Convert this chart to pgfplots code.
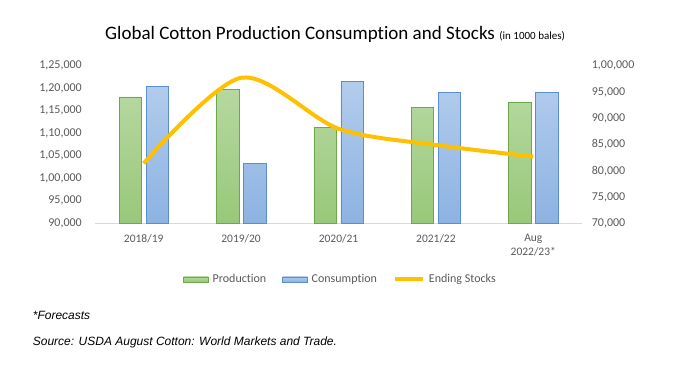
\documentclass[border=0pt]{standalone}
\usepackage{pgfplots}
\pgfplotsset{compat=1.18}
\usepackage{fontspec}
\setmainfont{Carlito}[Ligatures={NoCommon}]
\newfontfamily\arialfont{Liberation Sans}
\definecolor{tickgray}{HTML}{595959}
\definecolor{axgray}{HTML}{D9D9D9}
\definecolor{gtop}{HTML}{B6D8A0}
\definecolor{gbot}{HTML}{98C87A}
\definecolor{gline}{HTML}{6FA84A}
\definecolor{btop}{HTML}{B2CCEC}
\definecolor{bbot}{HTML}{8DB3E2}
\definecolor{bline}{HTML}{5B8FCC}
\definecolor{gold}{HTML}{FFC000}
\begin{document}
\begin{tikzpicture}
\path[use as bounding box] (0pt,0pt) rectangle (676pt,371pt);
\node[anchor=base west, inner sep=0pt] at (105pt,331pt)
  {\fontsize{19}{22}\selectfont Global Cotton Production Consumption and Stocks \fontsize{11}{13}\selectfont(in 1000 bales)};
\begin{axis}[
  at={(95pt,147.7pt)}, anchor=south west,
  scale only axis, width=487pt, height=157.6pt,
  xmin=-0.5, xmax=4.5, ymin=90000, ymax=125000,
  scaled y ticks=false,
  axis x line*=bottom, axis y line*=left,
  x axis line style={draw=axgray, -, line width=0.8pt},
  y axis line style={draw=none},
  tick style={draw=none},
  xtick={0,1,2,3,4},
  xticklabels={2018/19,2019/20,2020/21,2021/22,{Aug\\2022/23*}},
  xticklabel style={align=center, font=\fontsize{11.5}{14}\selectfont, text=tickgray, anchor=north, inner sep=0pt, yshift=-11pt},
  ytick={90000,95000,100000,105000,110000,115000,120000,125000},
  yticklabels={{90,000},{95,000},{1,00,000},{1,05,000},{1,10,000},{1,15,000},{1,20,000},{1,25,000}},
  yticklabel style={font=\fontsize{12}{14}\selectfont, text=tickgray, anchor=east, inner sep=0pt, xshift=-13pt},
  legend style={draw=none, fill=none, at={(0.5031,-0.3553)}, anchor=center,
    legend columns=3, font=\fontsize{12}{14}\selectfont, text=tickgray,
    /tikz/every even column/.append style={column sep=15pt},
    nodes={inner xsep=1pt, inner ysep=1.5pt},
    /tikz/every odd column/.append style={column sep=3pt}},
  legend cell align=left,
]
\addplot[ybar, bar width=22.4pt, bar shift=-13.5pt, draw=gline, top color=gtop, bottom color=gbot,
  legend image code/.code={\draw[draw=gline, top color=gtop, bottom color=gbot] (0pt,-2.5pt) rectangle (25pt,2.5pt);}]
  coordinates {(0,118100) (1,119760) (2,111300) (3,115760) (4,116870)};
\addlegendentry{Production}
\addplot[ybar, bar width=22.4pt, bar shift=13.5pt, draw=bline, top color=btop, bottom color=bbot,
  legend image code/.code={\draw[draw=bline, top color=btop, bottom color=bbot] (0pt,-2.5pt) rectangle (25pt,2.5pt);}]
  coordinates {(0,120450) (1,103300) (2,121500) (3,119100) (4,119100)};
\addlegendentry{Consumption}
\addlegendimage{legend image code/.code={\draw[gold, line width=4pt] (0pt,0pt) -- (28pt,0pt);}}
\addlegendentry{Ending Stocks}
\end{axis}
\begin{axis}[
  at={(95pt,147.7pt)}, anchor=south west,
  scale only axis, width=487pt, height=157.6pt,
  xmin=-0.5, xmax=4.5, ymin=70000, ymax=100000,
  scaled y ticks=false,
  axis x line=none, axis y line*=right,
  y axis line style={draw=none},
  tick style={draw=none},
  ytick={70000,75000,80000,85000,90000,95000,100000},
  yticklabels={{70,000},{75,000},{80,000},{85,000},{90,000},{95,000},{1,00,000}},
  yticklabel style={font=\fontsize{12}{14}\selectfont, text=tickgray, anchor=west, inner sep=0pt, xshift=9.7pt},
]
\addplot[smooth, gold, line width=4pt] coordinates {(0,81400) (1,97700) (2,88000) (3,84900) (4,82700)};
\end{axis}
\node[anchor=base west, inner sep=0pt] at (32.7pt,51pt) {\arialfont\itshape\fontsize{12}{14}\selectfont *Forecasts};
\node[anchor=base west, inner sep=0pt] at (32.7pt,25pt) {\arialfont\itshape\fontsize{12}{14}\selectfont Source: USDA August Cotton: World Markets and Trade.};
\end{tikzpicture}
\end{document}
